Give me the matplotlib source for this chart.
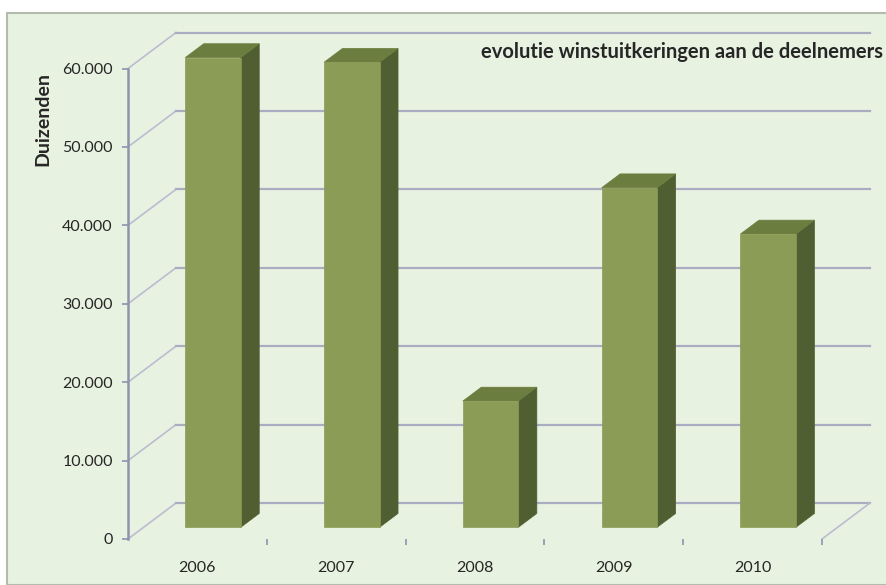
import matplotlib.pyplot as plt
from matplotlib.patches import Polygon, Rectangle
from matplotlib.ticker import FuncFormatter

# data (thousands of euro)
years = ["2006", "2007", "2008", "2009", "2010"]
values = [59900, 59300, 16100, 43300, 37400]
yticks = [0, 10000, 20000, 30000, 40000, 50000, 60000]

title = "evolutie winstuitkeringen aan de deelnemers"
ylabel = "Duizenden"

# colours
bg = "#E8F2E0"
front_c = "#8A9C55"
side_c = "#505F31"
top_c = "#6B7E3F"
grid_c = "#A9ADC2"
diag_c = "#BABDD2"
axis_c = "#8E94AE"
text_c = "#262626"

W, H = 886, 585
fig = plt.figure(figsize=(W / 100, H / 100), dpi=100)
fig.patch.set_facecolor("white")
fig.patches.append(Rectangle((7 / W, 0), 1, 1 - 13 / H, transform=fig.transFigure,
                             facecolor=bg, edgecolor="#B4BBAC", lw=1.5, zorder=-10))

# front plane of the 3d box, in pixels
left, right, bottom, top = 128, 822, 539, 68.5
ax = fig.add_axes([left / W, (H - bottom) / H, (right - left) / W, (bottom - top) / H])
ax.set_facecolor("none")
ax.set_xlim(0, len(years))
ax.set_ylim(0, 60000)

px_x = (right - left) / len(years)
px_y = (bottom - top) / 60000
DX = 48 / px_x      # depth offset in data units
DY = 36 / px_y


def proj(x, y, d):
    return (x + d * DX, y + d * DY)


# walls / gridlines
n = len(years)
for v in yticks:
    pts = [proj(0, v, 0), proj(0, v, 1)]
    ax.plot(*zip(*pts), color=diag_c, lw=1.2, clip_on=False, zorder=1)
    pts = [proj(0, v, 1), proj(n, v, 1)]
    ax.plot(*zip(*pts), color=grid_c, lw=1.6, clip_on=False, zorder=1)
pts = [proj(n, 0, 1), proj(n, 0, 0)]
ax.plot(*zip(*pts), color=diag_c, lw=1.2, clip_on=False, zorder=1)

# bars
w = 0.4
d0, d1 = 0.325, 0.71
for i, v in enumerate(values):
    x0, x1 = i + 0.5 - w / 2, i + 0.5 + w / 2
    front = [proj(x0, 0, d0), proj(x1, 0, d0), proj(x1, v, d0), proj(x0, v, d0)]
    side = [proj(x1, 0, d0), proj(x1, 0, d1), proj(x1, v, d1), proj(x1, v, d0)]
    topf = [proj(x0, v, d0), proj(x1, v, d0), proj(x1, v, d1), proj(x0, v, d1)]
    for poly, c in ((side, side_c), (topf, top_c), (front, front_c)):
        ax.add_patch(Polygon(poly, closed=True, facecolor=c, edgecolor=c, lw=0.5,
                             clip_on=False, zorder=3))

# axes styling
for s in ("top", "right", "bottom"):
    ax.spines[s].set_visible(False)
ax.spines["left"].set_color(axis_c)
ax.spines["left"].set_linewidth(1.8)
ax.set_yticks(yticks)
ax.yaxis.set_major_formatter(FuncFormatter(lambda v, p: f"{int(v):,}".replace(",", ".")))
ax.tick_params(axis="y", length=4, width=1.2, color=axis_c, pad=7,
               labelsize=11.5, labelcolor=text_c)
ax.set_xticks(range(1, n + 1))
ax.set_xticklabels([])
ax.set_xticks([i + 0.5 for i in range(n)], minor=True)
ax.set_xticklabels(years, minor=True)
ax.tick_params(axis="x", which="major", length=4, width=1.2, color=axis_c)
ax.tick_params(axis="x", which="minor", length=0, pad=16, labelsize=11.5, labelcolor=text_c)
for lab in ax.get_yticklabels() + ax.get_xticklabels(minor=True):
    lab.set_family("Lato")

fig.text(481 / W, 1 - 52 / H, title, ha="left", va="center", fontsize=14.5,
         fontweight="bold", color=text_c, family="Lato")
fig.text(43 / W, 1 - 119 / H, ylabel, ha="center", va="center", rotation=90,
         fontsize=14, fontweight="bold", color=text_c, family="Lato")

fig.savefig("out.png", dpi=100, facecolor=fig.get_facecolor())
